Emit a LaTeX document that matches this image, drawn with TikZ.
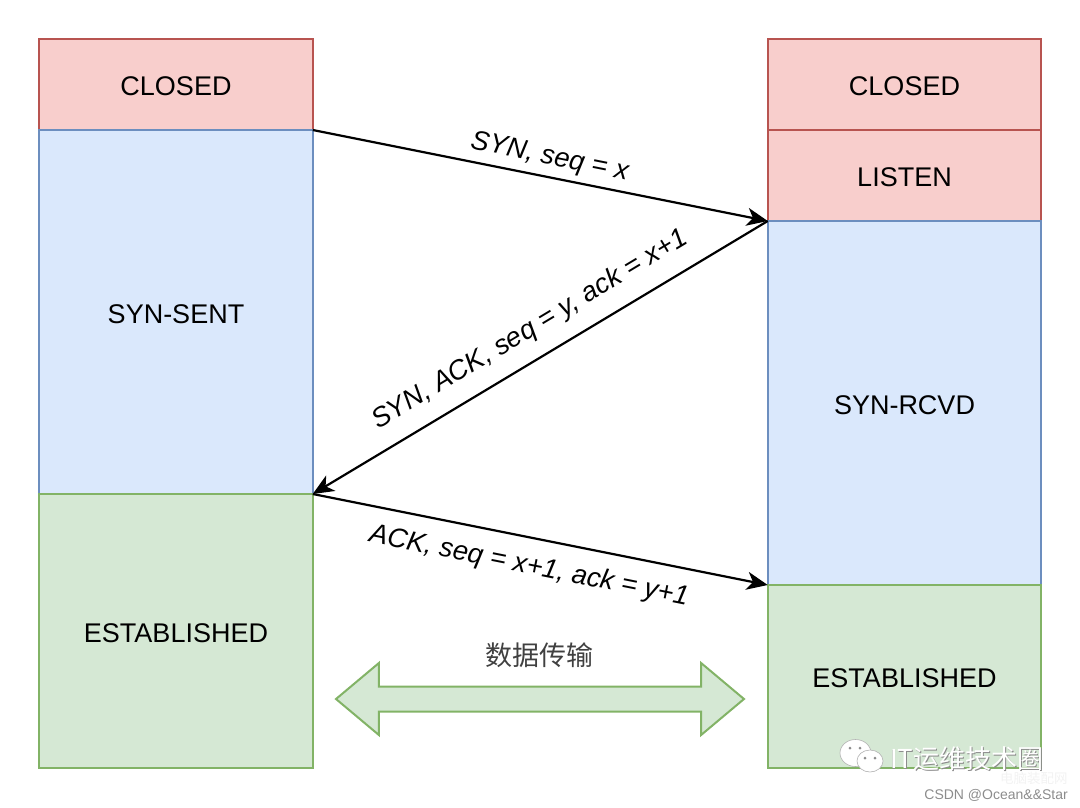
\documentclass[tikz,border=0pt]{standalone}
\usepackage{fontspec}
\setmainfont{Liberation Sans}
\newfontfamily\cjk{Noto Sans CJK SC}
\usetikzlibrary{arrows.meta,positioning,shapes.arrows,shapes.geometric}
\definecolor{redfill}{HTML}{F8CECC}
\definecolor{reddraw}{HTML}{B85450}
\definecolor{bluefill}{HTML}{DAE8FC}
\definecolor{bluedraw}{HTML}{6C8EBF}
\definecolor{greenfill}{HTML}{D5E8D4}
\definecolor{greendraw}{HTML}{82B366}
\tikzset{
  state/.style={draw, line width=2pt, outer sep=0pt, inner sep=0pt, minimum width=273.5pt, text height=22.5pt, text depth=0pt, font=\fontsize{27}{30}\selectfont},
  redstate/.style={state, fill=redfill, draw=reddraw},
  bluestate/.style={state, fill=bluefill, draw=bluedraw},
  greenstate/.style={state, fill=greenfill, draw=greendraw},
  msg/.style={line width=2.2pt, -{Stealth[length=21pt,width=18pt,inset=6pt]}},
  msglabel/.style={font=\fontsize{27.3}{30}\selectfont\itshape, sloped, inner sep=0pt},
  chat/.style={ellipse, fill=white, draw=black!30, line width=.6pt, inner sep=0pt},
  eye/.style={circle, fill=black!45, minimum size=3pt, inner sep=0pt}
}
\begin{document}
\begin{tikzpicture}[x=1pt,y=-1pt,node distance=0pt]
   \useasboundingbox (0,0) rectangle (1080,807);

   % client column
   \node[redstate, minimum height=91pt] (closedA) at (176,84.5) {CLOSED};
   \node[bluestate, minimum height=364pt] (sent) [below=of closedA] {SYN-SENT};
   \node[greenstate, minimum height=274pt] (estA) [below=of sent] {ESTABLISHED};

   % server column
   \node[redstate, minimum height=91pt] (closedB) at (904.5,84.5) {CLOSED};
   \node[redstate, minimum height=91pt] (listen) [below=of closedB] {LISTEN};
   \node[bluestate, minimum height=364pt] (rcvd) [below=of listen] {SYN-RCVD};
   \node[greenstate, minimum height=183pt] (estB) [below=of rcvd] {ESTABLISHED};

   % handshake
   \path[msg] (closedA.south east) edge node[msglabel, above=6pt, pos=0.512] {SYN, seq = x} (listen.south west)
   (listen.south west) edge node[msglabel, above=15pt, pos=0.49] {SYN, ACK, seq = y, ack = x+1} (sent.south east)
   (sent.south east) edge node[msglabel, below=15pt, pos=0.4875] {ACK, seq = x+1, ack = y+1} (rcvd.south west);

   % data transfer
   \node[double arrow, draw=greendraw, fill=greenfill, line width=2pt, inner sep=0pt, outer sep=0pt,
     minimum height=408pt, minimum width=72pt, double arrow head extend=23pt, double arrow tip angle=80] (transfer) at (540,699) {\rule{0pt}{22.5pt}};
   \node[font=\cjk\fontsize{27}{30}\selectfont, text=black!75] (transferlabel) at (539,655) {数据传输};

   % watermark
   \node[chat, minimum width=31pt, minimum height=27pt] (chatA) at (855.5,753) {};
   \node[eye] (eyeA) at (850,748) {};
   \node[eye] (eyeB) at (860,748) {};
   \node[chat, minimum width=26pt, minimum height=22pt] (chatB) at (870,761) {};
   \node[eye] (eyeC) at (865,758) {};
   \node[eye] (eyeD) at (875,758) {};
   \node[font=\cjk\fontsize{26}{28}\selectfont, text=black!45, anchor=west, inner sep=0pt] (markshadow) at (890.7,759.7) {IT运维技术圈};
   \node[font=\cjk\fontsize{26}{28}\selectfont, text=white, anchor=west, inner sep=0pt] (mark) at (890,759) {IT运维技术圈};
   \node[font=\cjk\fontsize{13.5}{15}\selectfont, text=black!5, anchor=west, inner sep=0pt] (markfaint) at (1000,778) {电脑装配网};
   \node[font=\fontsize{14}{15}\selectfont, text=black!45, anchor=east, inner sep=0pt] (csdn) at (1068,795) {CSDN @Ocean\&\&Star};
\end{tikzpicture}
\end{document}
